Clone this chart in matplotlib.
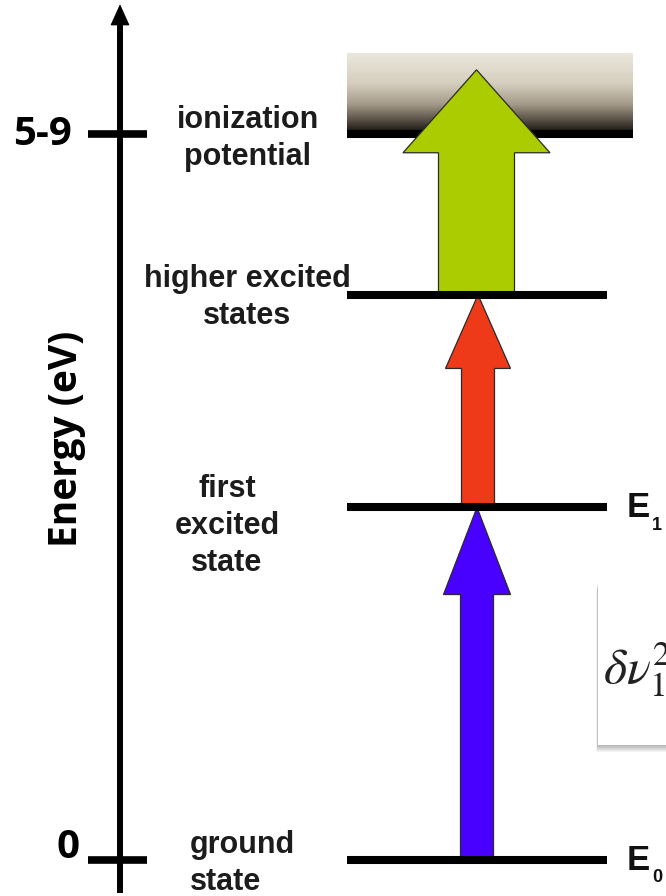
import numpy as np
import matplotlib.pyplot as plt
from matplotlib.patches import Polygon, Rectangle
from matplotlib.colors import LinearSegmentedColormap

plt.rcParams['mathtext.fontset'] = 'stix'

# energy levels (schematic, eV above ground state)
level_names = ["ground\nstate", "first\nexcited\nstate", "higher excited\nstates", "ionization\npotential"]
level_energy = [0.0, 3.40, 5.45, 7.0]
tick_values = [0.0, 7.0]
tick_labels = ["0", "5-9"]

# transitions drawn as arrows
arrow_start = [0.0, 3.40, 5.45]
arrow_end = [3.40, 5.45, 7.62]
arrow_colors = ["#4800ff", "#ee3a18", "#aacc00"]

PX = 103.7  # pixels per eV in the drawing


def arrow_poly(cx, y0, y1, shaft_w, head_w, head_len):
    return [(cx - shaft_w / 2, y0), (cx + shaft_w / 2, y0),
            (cx + shaft_w / 2, y1 - head_len), (cx + head_w / 2, y1 - head_len),
            (cx, y1), (cx - head_w / 2, y1 - head_len),
            (cx - shaft_w / 2, y1 - head_len)]


fig = plt.figure(figsize=(6.66, 8.96), dpi=100)
ax = fig.add_axes([0, 0, 1, 1])
ax.set_xlim(0, 666)
ax.set_ylim(-36 / PX, 860 / PX)
ax.axis('off')

# energy axis with arrow head
ax.plot([120, 120], [-33 / PX, 835 / PX], color='black', lw=4.3, solid_capstyle='butt')
ax.add_patch(Polygon([(111, 835 / PX), (129, 835 / PX), (120, 855 / PX)], closed=True,
                     facecolor='black', edgecolor='black', lw=0.5))
for val, lab in zip(tick_values, tick_labels):
    ax.plot([88, 147], [val, val], color='black', lw=5.5, solid_capstyle='butt')
ax.text(72, tick_values[1], tick_labels[1], ha='right', va='center', fontsize=29,
        fontweight='bold', family='Open Sans')
ax.text(80, tick_values[0] + 0.02, tick_labels[0], ha='right', va='baseline', fontsize=29,
        fontweight='bold', family='Open Sans')
ax.text(67, 4.06, "Energy (eV)", rotation=90, ha='center', va='center', fontsize=28,
        fontweight='bold', family='Open Sans')

# continuum above the ionization potential
grad = LinearSegmentedColormap.from_list('cont', [
    (0.0, '#ebe7dc'), (0.35, '#d6cfbf'), (0.6, '#a59b8a'),
    (0.8, '#544c42'), (0.92, '#1e1a16'), (1.0, '#000000')])
ion = level_energy[3]
ax.imshow(np.linspace(0, 1, 200).reshape(-1, 1), cmap=grad, aspect='auto',
          extent=[347, 633, ion - 4 / PX, ion + 81 / PX], origin='upper', zorder=1,
          interpolation='bilinear')
ax.plot([347, 633], [ion, ion], color='black', lw=5.8, solid_capstyle='butt', zorder=2)

# arrows
shaft_w = [33, 33, 76]
head_w = [67, 65, 147]
head_len = [0.84, 0.71, 0.80]
centers = [477, 478, 476.5]
for i in range(3):
    ax.add_patch(Polygon(arrow_poly(centers[i], arrow_start[i], arrow_end[i],
                                    shaft_w[i], head_w[i], head_len[i]),
                         closed=True, facecolor=arrow_colors[i], edgecolor='#2a2a2a',
                         lw=0.9, zorder=3))

# bound levels
for e in level_energy[:3]:
    ax.plot([347, 607], [e, e], color='black', lw=5.8, solid_capstyle='butt', zorder=4)

# level names
label_x = [190, 227, 247, 248]
label_dy = [-0.03, -0.18, -0.03, -0.04]
label_ha = ['left', 'center', 'center', 'center']
for name, e, x, dy, ha in zip(level_names, level_energy, label_x, label_dy, label_ha):
    ax.text(x, e + dy, name, ha=ha, va='center', fontsize=22, fontweight='bold',
            family='Liberation Sans', color='#1c1c1c', linespacing=1.3, zorder=5)

# E0 / E1 markers
for e, sub in [(level_energy[0], "0"), (level_energy[1], "1")]:
    ax.text(627, e, "E", ha='left', va='center', fontsize=25, fontweight='bold',
            family='Liberation Sans', color='#111111')
    ax.text(652, e - 0.17, sub, ha='left', va='center', fontsize=13, fontweight='bold',
            family='Liberation Sans', color='#111111')

# inset box with linewidth formula (cut off at right)
bx0, bx1 = 598, 680
by0, by1 = (860 - 745) / PX, (860 - 582) / PX
for k in range(7):
    ax.add_patch(Rectangle((bx0 - 0.5 - k * 0.2, by0 - (k + 1) / PX), bx1 - bx0,
                           by1 - by0, facecolor='#000000', alpha=0.045, lw=0, zorder=6))
ax.add_patch(Rectangle((bx0, by0), bx1 - bx0, by1 - by0, facecolor='white',
                       edgecolor='none', lw=0, zorder=7))
ax.text(603, (860 - 684) / PX, r'$\delta\nu_{1}^{2}$', ha='left', va='baseline',
        fontsize=36, color='#222222', zorder=8)

fig.savefig('out.png', dpi=100)
